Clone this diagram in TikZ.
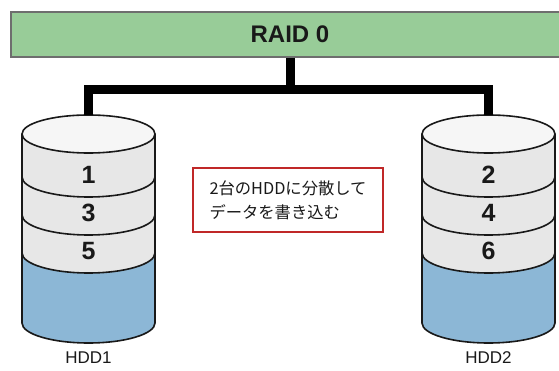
\documentclass[tikz,border=0pt]{standalone}
\usepackage{fontspec}
\setmainfont{Liberation Sans}
\newfontfamily\jpfont{Noto Sans CJK JP}
\definecolor{bargreen}{RGB}{152,204,152}
\definecolor{barline}{RGB}{110,110,110}
\definecolor{diskblue}{RGB}{140,183,214}
\definecolor{diskgray}{RGB}{231,231,231}
\definecolor{disktop}{RGB}{246,246,246}
\definecolor{boxred}{RGB}{192,40,40}
\definecolor{ink}{RGB}{25,25,25}
\tikzset{
  raidbar/.style={draw=barline, line width=1.2pt, fill=bargreen, minimum width=558, minimum height=45, inner sep=0pt, font=\fontsize{24}{28}\selectfont\bfseries, text=ink},
  wire/.style={line width=9pt, line join=miter, draw=black},
  disknum/.style={font=\fontsize{25}{28}\selectfont\bfseries, text=ink, inner sep=0pt},
  disklabel/.style={font=\fontsize{17}{20}\selectfont, text=ink, inner sep=0pt},
  notebox/.style={draw=boxred, line width=2.6pt, fill=white, align=left, inner xsep=13pt, minimum width=190, minimum height=64, font=\jpfont\fontsize{16.3}{24}\selectfont, text=ink},
  diskline/.style={draw=ink, line width=1.6pt}
}
\newcommand{\mydisk}[5]{%
  % #1 center x, #2 name, #3 #4 #5 numbers
  \begin{scope}[shift={(#1,0)}]
    \fill[diskgray] (-66.5,-134) -- (-66.5,-253) arc[start angle=180,end angle=360,x radius=66.5,y radius=20] -- (66.5,-134) -- cycle;
    \fill[diskblue] (-66.5,-253) arc[start angle=180,end angle=360,x radius=66.5,y radius=20] -- (66.5,-323) arc[start angle=0,end angle=-180,x radius=66.5,y radius=20] -- cycle;
    \draw[diskline] (-66.5,-177) arc[start angle=180,end angle=360,x radius=66.5,y radius=20];
    \draw[diskline] (-66.5,-215) arc[start angle=180,end angle=360,x radius=66.5,y radius=20];
    \draw[diskline] (-66.5,-253) arc[start angle=180,end angle=360,x radius=66.5,y radius=20];
    \draw[diskline] (-66.5,-134) -- (-66.5,-323) arc[start angle=180,end angle=360,x radius=66.5,y radius=20] -- (66.5,-134);
    \draw[diskline, fill=disktop] (0,-134) ellipse[x radius=66.5, y radius=19];
    \coordinate (#2top) at (0,-115);
    \node[disknum] (#2a) at (0,-175) {#3};
    \node[disknum] (#2b) at (0,-213) {#4};
    \node[disknum] (#2c) at (0,-251) {#5};
    \node[disklabel] (#2label) at (0,-358) {#2};
  \end{scope}}
\begin{document}
\begin{tikzpicture}[x=1pt,y=1pt]
\useasboundingbox (0,0) rectangle (559,-371);
\fill[white] (0,0) rectangle (559,-371);
\node[raidbar] (raid) at (290,-34.5) {RAID 0};
\mydisk{88.5}{HDD1}{1}{3}{5}
\mydisk{488.5}{HDD2}{2}{4}{6}
\draw[wire] (raid.south) -- (290,-90) -| (HDD1top);
\draw[wire] (290,-90) -| (HDD2top);
\node[notebox] (note) at (288,-200) {2台のHDDに分散して\\データを書き込む};
\end{tikzpicture}
\end{document}
